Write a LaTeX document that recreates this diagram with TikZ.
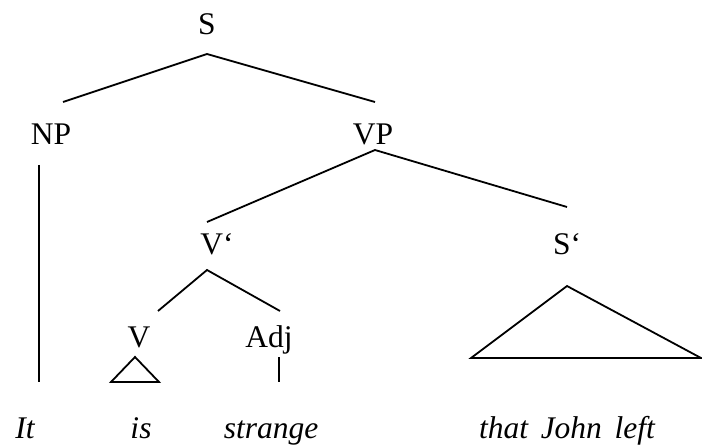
\documentclass[tikz,border=0pt]{standalone}
\usepackage{fontspec}
\setmainfont{Liberation Serif}
\usetikzlibrary{positioning}
\newcommand{\treefont}{\fontsize{31.5}{36}\selectfont}
\newcommand{\wordfont}{\treefont\itshape\spaceskip=0.4em\relax}
\tikzset{
  every picture/.style={line width=1.8pt, x=1pt, y=1pt},
  cat/.style={anchor=base, inner sep=0pt, font=\treefont},
  word/.style={cat, font=\wordfont},
  branch/.style={draw=black, line cap=butt},
}

\begin{document}
\begin{tikzpicture}
  \useasboundingbox (0,0) rectangle (702,445);
  % categories
  \node[cat] (S)   at (207,410) {S};
  \node[cat] (NP)  at (51,300)  {NP};
  \node[cat] (VP)  at (373,300) {VP};
  \node[cat] (Vb)  at (217,190) {V‘};
  \node[cat] (Sb)  at (567,190) {S‘};
  \node[cat] (V)   at (139,98)  {V};
  \node[cat] (Adj) at (269,98)  {Adj};
  % words
  \node[word] (it)   at (25,7)  {It};
  \node[word] (is)   at (141,7) {is};
  \node[word] (str)  at (271,7) {strange};
  \node[word] (that) at (567,7) {that John left};
  % branches
  \draw[branch] ([xshift=12pt,yshift=43pt]NP.base) -- ([yshift=-19pt]S.base)
    -- ([xshift=2pt,yshift=43pt]VP.base);
  \draw[branch] ([xshift=-10pt,yshift=33pt]Vb.base) -- ([xshift=2pt,yshift=-5pt]VP.base)
    -- ([yshift=48pt]Sb.base);
  \draw[branch] ([xshift=19pt,yshift=36pt]V.base) -- ([xshift=-10pt,yshift=-15pt]Vb.base)
    -- ([xshift=11pt,yshift=36pt]Adj.base);
  \draw[branch] ([xshift=-12pt,yshift=-20pt]NP.base) -- ([xshift=14pt,yshift=56pt]it.base);
  \draw[branch] ([xshift=10pt,yshift=-10pt]Adj.base) -- ([xshift=8pt,yshift=56pt]str.base);
  % roofs
  \draw[branch] ([xshift=-4pt,yshift=-10pt]V.base) -- ([xshift=-30pt,yshift=56pt]is.base)
    -- ([xshift=18pt,yshift=56pt]is.base) -- cycle;
  \draw[branch] ([yshift=-31pt]Sb.base) -- ([xshift=-96pt,yshift=80pt]that.base)
    -- ([xshift=134pt,yshift=80pt]that.base) -- cycle;
\end{tikzpicture}
\end{document}
